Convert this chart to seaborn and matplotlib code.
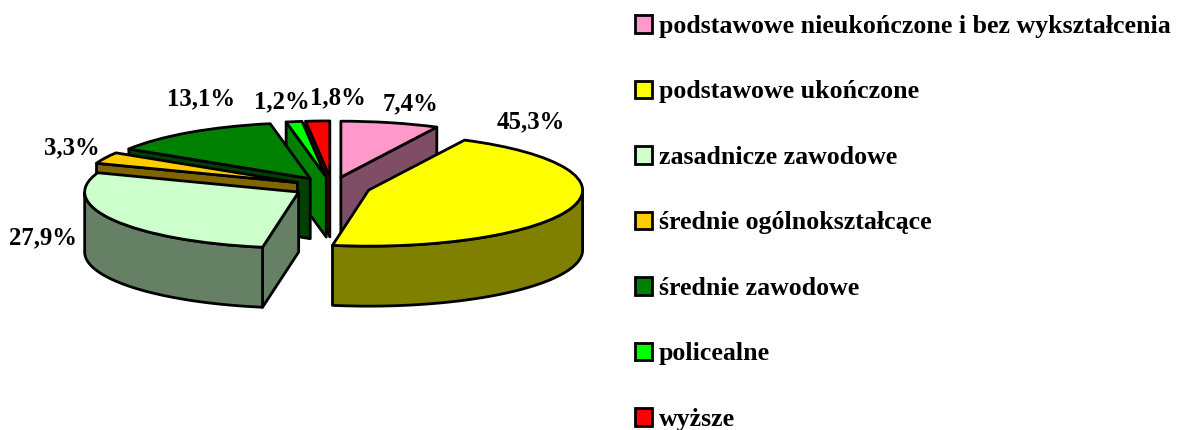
import numpy as np
import seaborn as sns
import matplotlib.pyplot as plt
from matplotlib.patches import Polygon

categories = ["podstawowe nieukończone i bez wykształcenia", "podstawowe ukończone",
              "zasadnicze zawodowe", "średnie ogólnokształcące", "średnie zawodowe",
              "policealne", "wyższe"]
values = [7.4, 45.3, 27.9, 3.3, 13.1, 1.2, 1.8]
colors = ["#FF99CC", "#FFFF00", "#CCFFCC", "#FFCC00", "#008000", "#00FF00", "#FF0000"]
side_colors = ["#804D66", "#808000", "#668066", "#806600", "#004000", "#008000", "#800000"]

sns.set_theme(style="white")
plt.rcParams["font.family"] = ["Liberation Serif", "DejaVu Serif"]
plt.rcParams["font.weight"] = "bold"
plt.rcParams["text.color"] = "black"

W, H = 1184, 430
RX, RY = 214.0, 56.0   # pixels per data unit
CX, CY = 332.0, 187.0  # pie centre in pixels
DEPTH = 60.0 / RY
LW = 2.0

fig = plt.figure(figsize=(W / 100, H / 100), dpi=100, facecolor="white")
ax = fig.add_axes([0, 0, 1, 1])

wedges, _ = ax.pie(values, colors=colors, startangle=90, counterclock=False,
                   explode=[0.18] * len(values), radius=1,
                   wedgeprops=dict(edgecolor="black", linewidth=LW, joinstyle="round"))
ax.set_aspect("auto")
ax.set_xlim(-CX / RX, (W - CX) / RX)
ax.set_ylim(-(H - CY) / RY, CY / RY)
ax.axis("off")


def add_side(pts, color, z):
    pts = np.asarray(pts)
    below = pts[::-1] - [0, DEPTH]
    ax.add_patch(Polygon(np.vstack([pts, below]), closed=True, facecolor=color,
                         edgecolor="black", linewidth=LW, joinstyle="round", zorder=z))


# back slices first, so the nearer ones cover them
mids = [np.radians((w.theta1 + w.theta2) / 2) for w in wedges]
order = np.argsort([-np.sin(m) for m in mids])
for z, i in enumerate(order):
    w = wedges[i]
    base = 10 + z * 2
    cx, cy = w.center
    t1, t2 = w.theta1, w.theta2
    # cut faces turned towards the viewer
    for t, sign in ((t1, 1), (t2, -1)):
        a = np.radians(t)
        if sign * np.cos(a) > 1e-6:
            add_side([(cx, cy), (cx + np.cos(a), cy + np.sin(a))], side_colors[i], base)
    # outer wall, only the front half of the arc
    th = np.radians(np.linspace(t1, t2, 300))
    th = th[np.sin(th) <= 0]
    if len(th) > 1:
        add_side(np.column_stack([cx + np.cos(th), cy + np.sin(th)]), side_colors[i], base)
    w.set_zorder(base + 1)

# percentage labels, centres in pixels
label_pos = [(411, 104), (531, 122), (43, 238), (72, 148), (201, 99), (282, 102), (338, 98)]
for v, (px, py) in zip(values, label_pos):
    ax.text((px - CX) / RX, (CY - py) / RY, f"{v:.1f}%".replace(".", ","), ha="center", va="center",
            fontsize=17.8, fontweight="bold", color="black", zorder=50)

leg = fig.legend(wedges, categories, loc="upper left", bbox_to_anchor=(635 / W, 1 - 15 / H),
                 frameon=False, fontsize=18.65, labelspacing=1.64, handlelength=0.66, handleheight=0.66,
                 handletextpad=0.25, borderpad=0, borderaxespad=0)
for h in leg.legend_handles:
    h.set_linewidth(2)

fig.savefig("out.png", dpi=100)
